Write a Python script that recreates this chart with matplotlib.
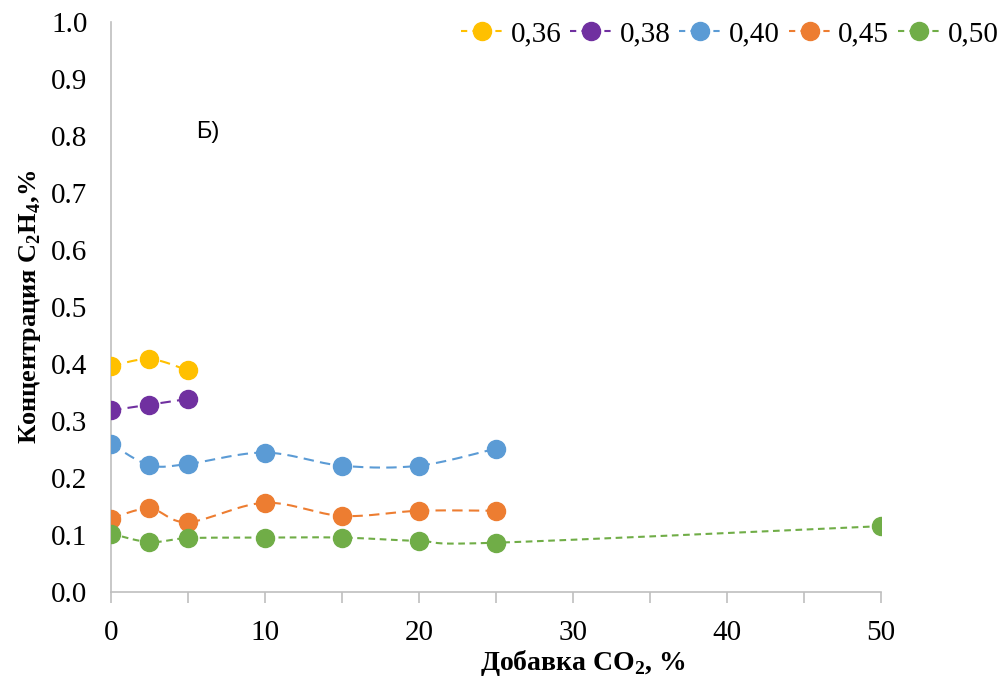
import numpy as np
import matplotlib
matplotlib.use("Agg")
from matplotlib import pyplot as plt

plt.rcParams['font.family'] = ['Liberation Serif', 'DejaVu Serif']
plt.rcParams['mathtext.fontset'] = 'custom'
plt.rcParams['mathtext.rm'] = 'Liberation Serif'
plt.rcParams['mathtext.bf'] = 'Liberation Serif:bold'

# данные
x_short = [0, 2.5, 5]
x_mid = [0, 2.5, 5, 10, 15, 20, 25]
x_long = [0, 2.5, 5, 10, 15, 20, 25, 50]

y_036 = [0.396, 0.409, 0.389]
y_038 = [0.319, 0.329, 0.339]
y_040 = [0.260, 0.223, 0.225, 0.245, 0.222, 0.222, 0.252]
y_045 = [0.129, 0.147, 0.123, 0.157, 0.134, 0.143, 0.143]
y_050 = [0.103, 0.088, 0.095, 0.096, 0.096, 0.090, 0.087, 0.116]

labels = ['0,36', '0,38', '0,40', '0,45', '0,50']
colors = ['#FFC000', '#7030A0', '#5B9BD5', '#ED7D31', '#70AD47']


def smooth(xs, ys, steps=30):
    # сглаживание как в Excel (кривые Безье)
    p = np.column_stack([xs, ys]).astype(float)
    n = len(p)
    out = [p[0]]
    for i in range(n - 1):
        p0 = p[i - 1] if i > 0 else p[i]
        p3 = p[i + 2] if i + 2 < n else p[i + 1]
        c1 = p[i] + (p[i + 1] - p0) / 6
        c2 = p[i + 1] - (p3 - p[i]) / 6
        t = np.linspace(0, 1, steps)[1:, None]
        seg = ((1 - t)**3 * p[i] + 3 * (1 - t)**2 * t * c1 +
               3 * (1 - t) * t**2 * c2 + t**3 * p[i + 1])
        out.extend(seg)
    out = np.array(out)
    return out[:, 0], out[:, 1]


fig = plt.figure(figsize=(10.02, 6.84), dpi=100)
ax = fig.add_axes([0.1108, 0.134, 0.768, 0.834])

series = [(x_short, y_036), (x_short, y_038), (x_mid, y_040),
          (x_mid, y_045), (x_long, y_050)]
handles = []
for k, (xs, ys) in enumerate(series):
    dash = (3.2, 2.2) if k == 4 else (5, 3)
    sx, sy = smooth(xs, ys)
    ax.plot(sx, sy, color=colors[k], lw=1.5, dashes=dash, zorder=2)
    ax.plot(xs, ys, 'o', color=colors[k], ms=13, zorder=3)
    h, = ax.plot([], [], color=colors[k], lw=1.5, dashes=(3, 2.5),
                 marker='o', ms=13, label=labels[k])
    handles.append(h)

ax.set_xlim(0, 50)
ax.set_ylim(0, 1.0)
ax.set_xticks([0, 10, 20, 30, 40, 50])
ax.set_xticks(np.arange(0, 51, 5), minor=True)
ax.set_yticks(np.arange(0, 1.01, 0.1))
ax.set_yticklabels([f'{v:.1f}' for v in np.arange(0, 1.01, 0.1)])

for s in ['top', 'right']:
    ax.spines[s].set_visible(False)
for s in ['left', 'bottom']:
    ax.spines[s].set_color('#BFBFBF')
    ax.spines[s].set_linewidth(1.2)

ax.tick_params(axis='y', length=0, labelsize=21, pad=17)
ax.tick_params(axis='x', which='both', length=8, color='#BFBFBF',
               width=1.2, labelsize=21, pad=12)

fig.text(0.582, 0.03, 'Добавка CO$_\\mathbf{2}$, %', fontsize=20,
         fontweight='bold', ha='center', va='center')
ax.set_ylabel('Концентрация C$_\\mathbf{2}$H$_\\mathbf{4}$,%', fontsize=19,
              fontweight='bold')
ax.yaxis.set_label_coords(-0.088, 0.5)

ax.text(0.207, 0.807, 'Б)', transform=fig.transFigure, fontsize=17,
        family=['Liberation Sans', 'DejaVu Sans'], ha='center', va='center')

fig.legend(handles=handles, loc='upper right', bbox_to_anchor=(1.008, 0.987),
           ncol=5, frameon=False, fontsize=21, handlelength=1.45,
           handletextpad=0.25, columnspacing=0.3, borderaxespad=0.0)

fig.savefig('out.png', dpi=100)
